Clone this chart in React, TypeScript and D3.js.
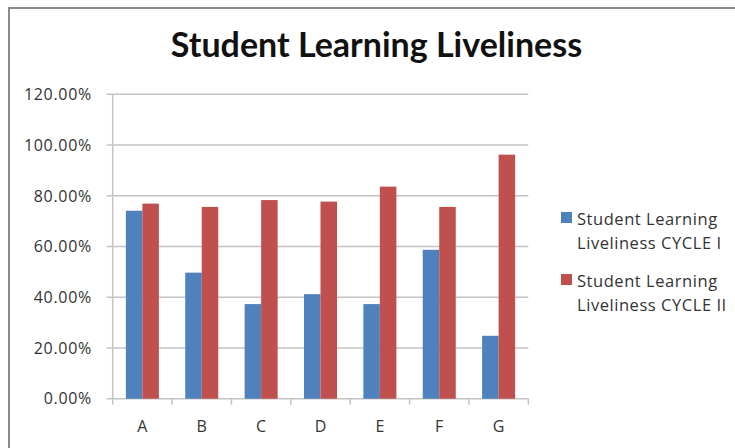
import React from "react";
import * as d3 from "d3";

const categories = ["A", "B", "C", "D", "E", "F", "G"];
const cycle1 = [0.741, 0.497, 0.373, 0.412, 0.373, 0.587, 0.248];
const cycle2 = [0.769, 0.756, 0.783, 0.777, 0.836, 0.756, 0.962];
const seriesNames = [
  ["Student Learning", "Liveliness CYCLE I"],
  ["Student Learning", "Liveliness CYCLE II"],
];
const yTicks = [0, 0.2, 0.4, 0.6, 0.8, 1.0, 1.2];
const title = "Student Learning Liveliness";

const W = 735;
const H = 448;
const colors = ["#4F81BD", "#C0504D"];
const TFONT = "Lato, 'Noto Sans', sans-serif";
const FONT = "'Open Sans', 'Noto Sans', sans-serif";

export default function App() {
  const left = 112.7;
  const right = 528.3;
  const top = 94.3;
  const bottom = 398.7;

  const x = d3
    .scaleBand<string>()
    .domain(categories)
    .range([left, right])
    .paddingInner(0.444)
    .paddingOuter(0.222);
  const xs = d3.scaleBand<number>().domain([0, 1]).range([0, x.bandwidth()]);
  const y = d3.scaleLinear().domain([0, 1.2]).range([bottom, top]);
  const fmt = d3.format(".2%");
  const step = x.step();
  const boundaries = d3.range(categories.length + 1).map((i) => left + i * step);
  const series = [cycle1, cycle2];

  return (
    <svg
      width={W}
      height={H}
      style={{ position: "absolute", left: 0, top: 0, background: "#fff" }}
    >
      <rect x={0} y={0} width={W} height={H} fill="#fff" />
      <rect
        x={9}
        y={8}
        width={W}
        height={H}
        fill="#fff"
        stroke="#8a8a8a"
        strokeWidth={2}
      />
      <text
        x={376.5}
        y={56.7}
        textAnchor="middle"
        fontFamily={TFONT}
        fontWeight={700}
        fontSize={34}
        fill="#111"
      >
        {title}
      </text>

      {yTicks.map((t) => (
        <g key={t}>
          <line
            x1={left - 6}
            x2={right}
            y1={y(t)}
            y2={y(t)}
            stroke="#c4c4c4"
            strokeWidth={1.5}
          />
          <text
            x={92}
            y={y(t)}
            dy="0.36em"
            textAnchor="end"
            fontFamily={FONT}
            fontSize={16}
            letterSpacing={0.7}
            fill="#333"
          >
            {fmt(t)}
          </text>
        </g>
      ))}
      <line x1={left} x2={left} y1={top} y2={bottom} stroke="#c4c4c4" strokeWidth={1.5} />
      {boundaries.map((b, i) => (
        <line key={i} x1={b} x2={b} y1={bottom} y2={bottom + 6} stroke="#c4c4c4" strokeWidth={1.5} />
      ))}

      {categories.map((c, i) => (
        <g key={c}>
          {series.map((s, k) => (
            <rect
              key={k}
              x={(x(c) as number) + (xs(k) as number)}
              y={y(s[i])}
              width={xs.bandwidth()}
              height={bottom - y(s[i])}
              fill={colors[k]}
            />
          ))}
          <text
            x={(x(c) as number) + x.bandwidth() / 2}
            y={432.3}
            textAnchor="middle"
            fontFamily={FONT}
            fontSize={16}
            fill="#333"
          >
            {c}
          </text>
        </g>
      ))}

      {seriesNames.map((lines, k) => (
        <g key={k} transform={`translate(0, ${k * 62})`}>
          <rect x={561} y={212} width={11} height={11} fill={colors[k]} />
          {lines.map((ln, j) => (
            <text
              key={j}
              x={577}
              y={225 + j * 23.5}
              fontFamily={FONT}
              fontSize={16.5}
              letterSpacing={0.55}
              fill="#333"
            >
              {ln}
            </text>
          ))}
        </g>
      ))}
    </svg>
  );
}
